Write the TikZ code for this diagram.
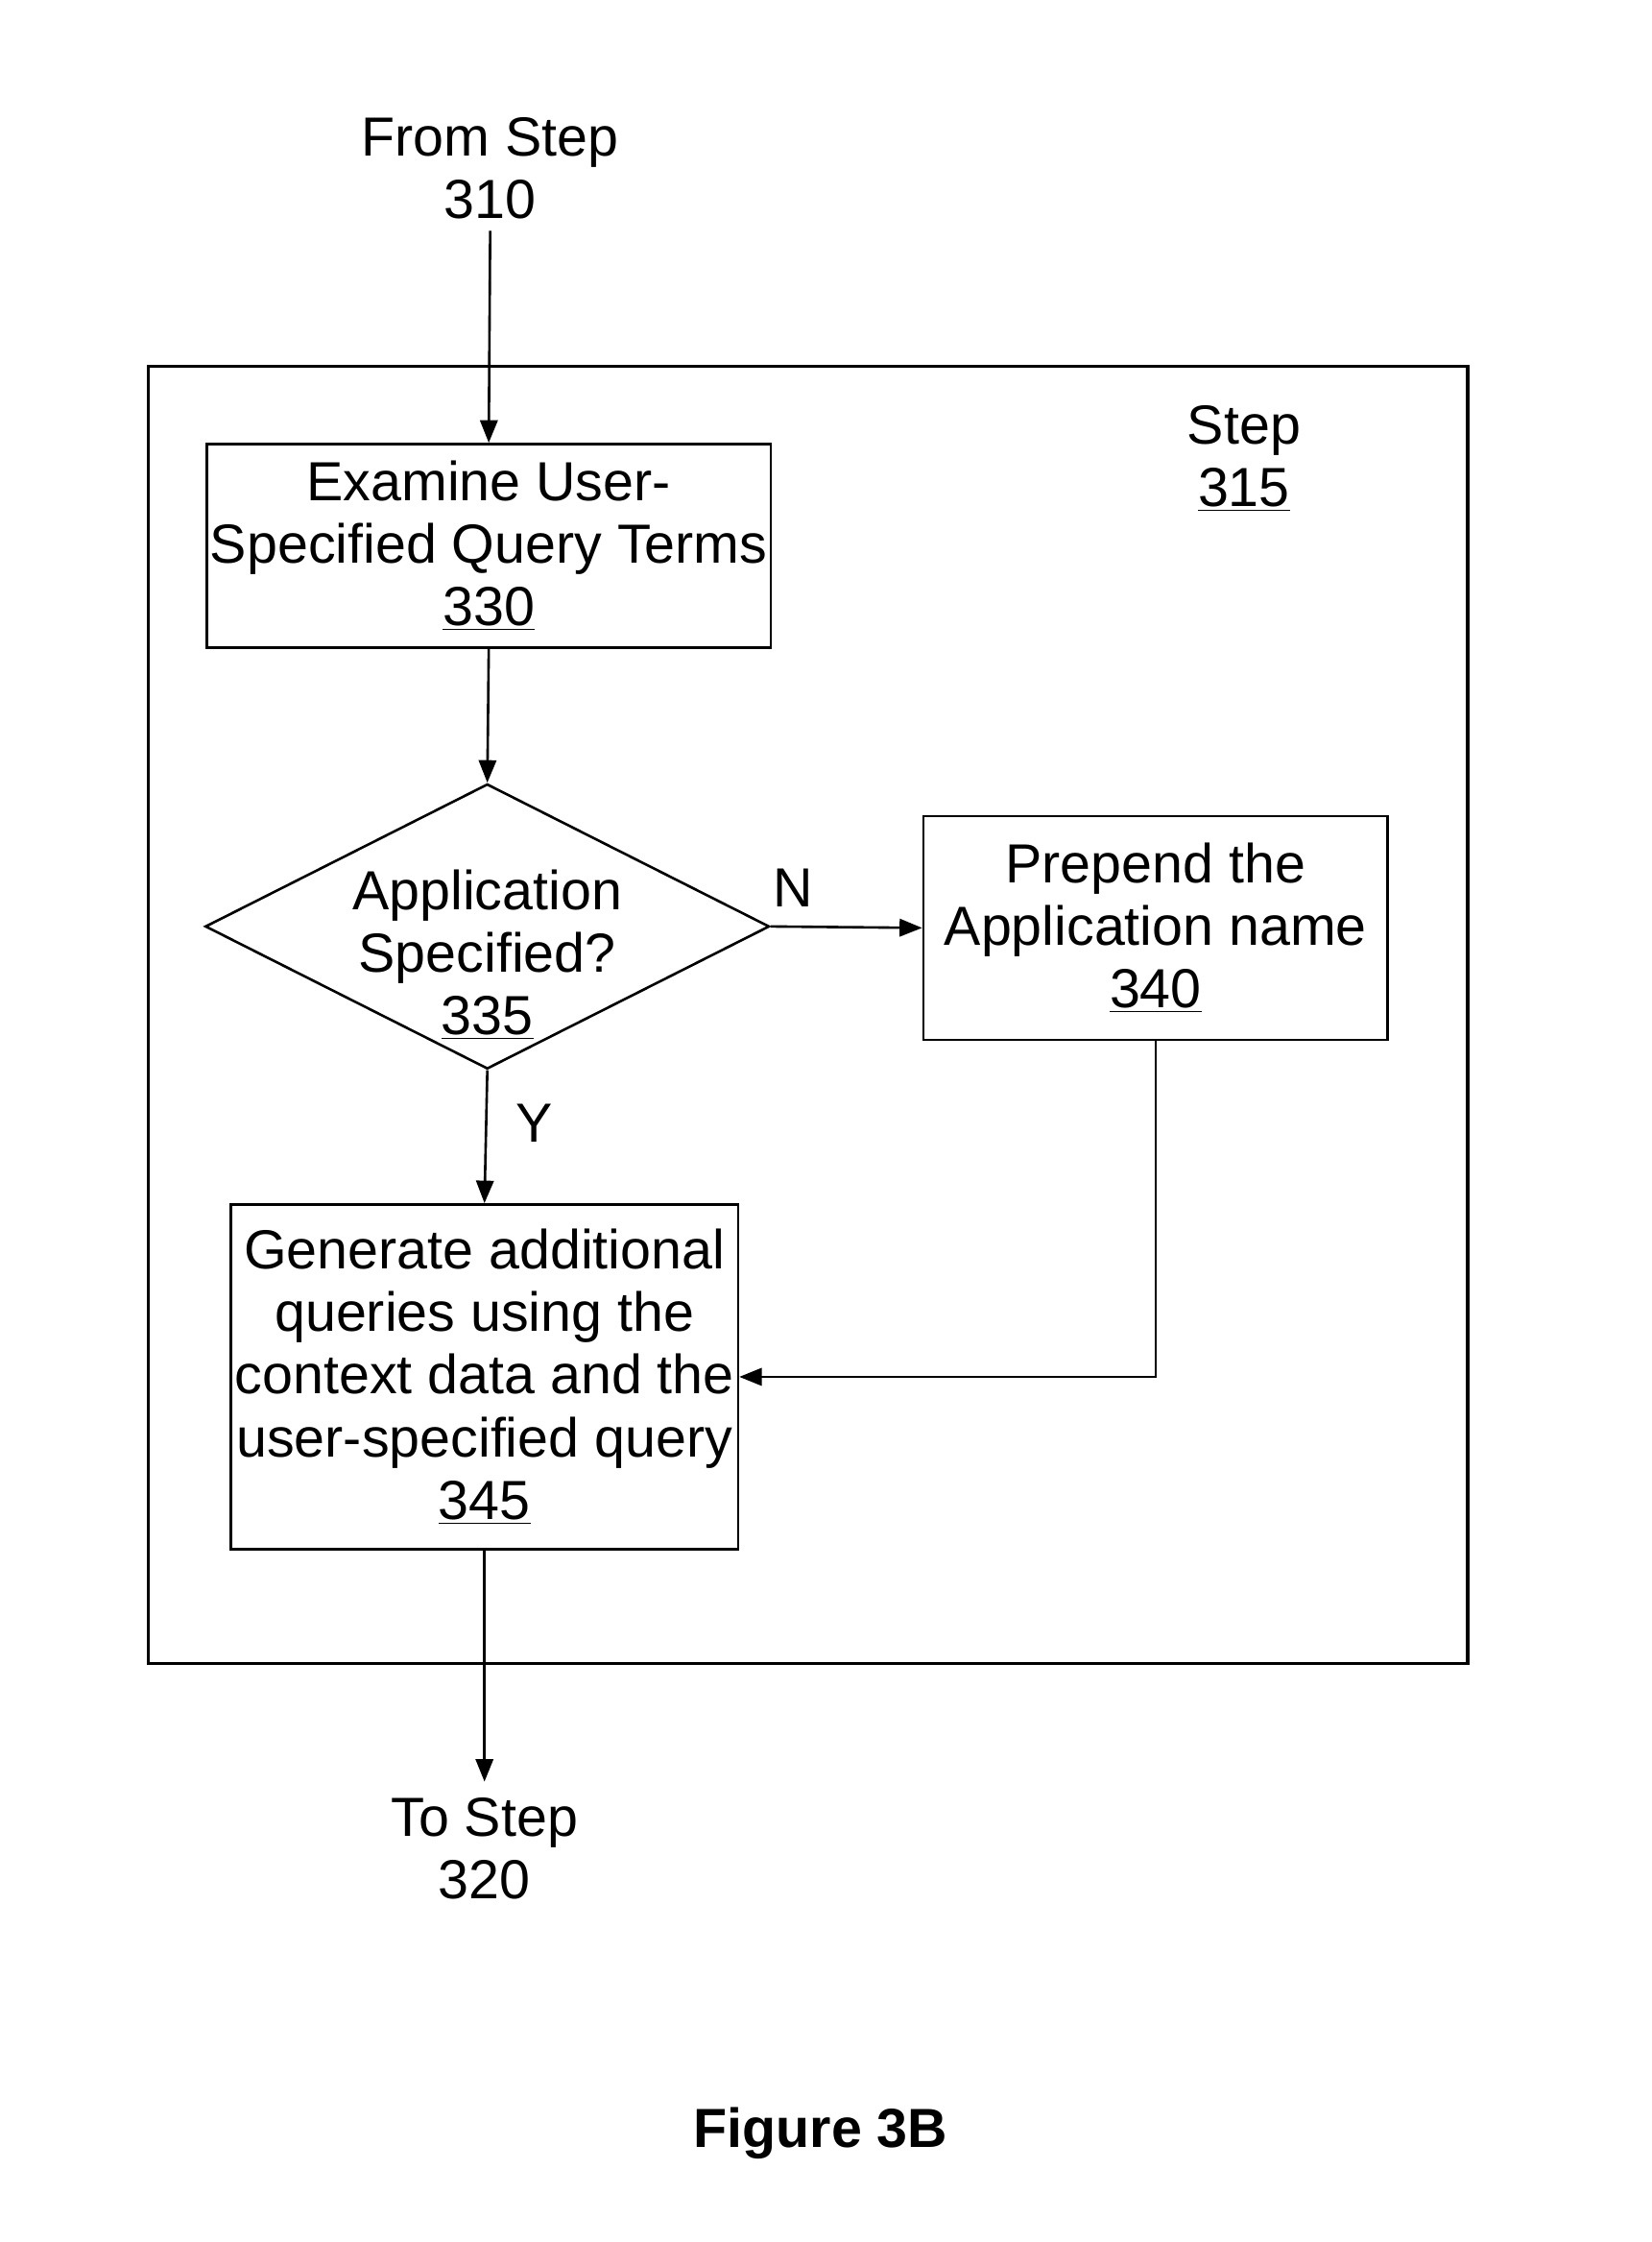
\documentclass[tikz,border=0pt]{standalone}
\usepackage{fontspec}
\setmainfont{Liberation Sans}
\usetikzlibrary{shapes.geometric,arrows.meta}
\begin{document}
\begin{tikzpicture}[x=0.02cm,y=-0.02cm,
  every node/.style={font=\fontsize{22pt}{25pt}\selectfont,align=center},
  box/.style={draw,line width=1pt,inner sep=0pt},
  arr/.style={line width=1pt,-{Triangle[length=9pt,width=7pt]}}]
\useasboundingbox (0,0) rectangle (1159,1573);
\node (from) at (344,118) {From Step\\310};
\draw[line width=1.2pt] (104,257) rectangle (1030,1167);
\node (step) at (873,322) {Step\\\underline{315}};
\node[box,minimum width=7.92cm,minimum height=2.86cm] (a) at (343,383) {Examine User-\\Specified Query Terms\\\underline{330}};
\node[box,diamond,aspect=2,minimum width=7.92cm,minimum height=4cm] (d) at (342,650) {};
\node at (342,670) {Application\\Specified?\\\underline{335}};
\node[box,minimum width=6.52cm,minimum height=3.14cm] (p) at (811,651) {Prepend the\\Application name\\\underline{340}};
\node[box,minimum width=7.12cm,minimum height=4.84cm] (g) at (340,966) {Generate additional\\queries using the\\context data and the\\user-specified query\\\underline{345}};
\node (to) at (340,1297) {To Step\\320};
\node[font=\fontsize{22pt}{25pt}\selectfont\bfseries] (fig) at (576,1497) {Figure 3B};
\coordinate (s) at (344,162);
\draw[arr] (s) -- (a.north);
\draw[arr] (a.south) -- (d.north);
\draw[arr] (d.east) -- node[pos=0.15,above=4pt] {N} (p.west);
\draw[arr] (d.south) -- node[right=8pt,pos=0.4] {Y} (g.north);
\draw[arr] (p.south) |- (g.east);
\coordinate (e) at (340,1250);
\draw[arr] (g.south) -- (e);
\end{tikzpicture}
\end{document}
